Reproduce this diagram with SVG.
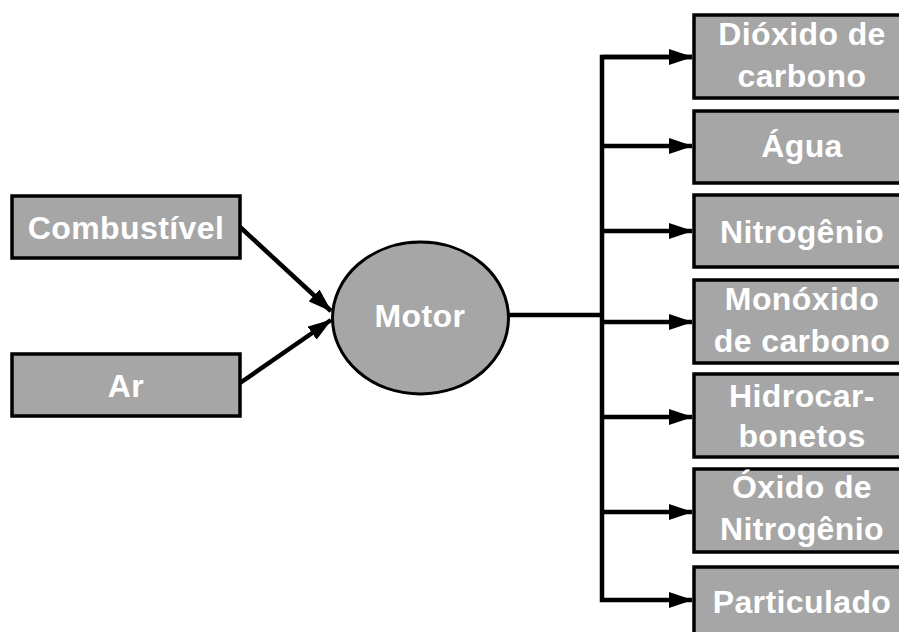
<svg xmlns="http://www.w3.org/2000/svg" width="899" height="632" viewBox="0 0 899 632">
<defs>
<marker id="ah" markerWidth="24" markerHeight="16" refX="23" refY="8" orient="auto" markerUnits="userSpaceOnUse">
<path d="M0,0 L24,8 L0,16 Z" fill="#000"/>
</marker>
<style>
.box{fill:#a6a6a6;stroke:#000;stroke-width:3.5}
.t{font-family:"Liberation Sans",Arial,sans-serif;font-weight:bold;font-size:32px;letter-spacing:0.4px;fill:#fff;text-anchor:middle}
.c{fill:none;stroke:#000;stroke-width:4.5}
</style>
</defs>
<rect width="899" height="632" fill="#fff"/>
<g id="connectors">
<line class="c" x1="240" y1="227" x2="331" y2="311" marker-end="url(#ah)"/>
<line class="c" x1="240" y1="383" x2="331" y2="320" marker-end="url(#ah)"/>
<line class="c" x1="509" y1="315" x2="602" y2="315"/>
<polyline class="c" points="692,57 602,57 602,600 692,600" marker-end="url(#ah)"/>
<line class="c" x1="602" y1="146" x2="692" y2="146" marker-end="url(#ah)"/>
<line class="c" x1="602" y1="231" x2="692" y2="231" marker-end="url(#ah)"/>
<line class="c" x1="602" y1="322" x2="692" y2="322" marker-end="url(#ah)"/>
<line class="c" x1="602" y1="417" x2="692" y2="417" marker-end="url(#ah)"/>
<line class="c" x1="602" y1="512" x2="692" y2="512" marker-end="url(#ah)"/>
<path d="M602,57 L692,57" class="c" marker-end="url(#ah)"/>
</g>
<g id="combustivel"><rect class="box" x="12" y="196" width="228" height="62"/><text class="t" x="126" y="239">Combustível</text></g>
<g id="ar"><rect class="box" x="12" y="354" width="228" height="62"/><text class="t" x="126" y="397">Ar</text></g>
<g id="motor"><ellipse cx="420.5" cy="318" rx="88" ry="76" fill="#a6a6a6" stroke="#000" stroke-width="3"/><text class="t" x="420" y="327">Motor</text></g>
<g id="dioxido"><rect class="box" x="694" y="15" width="216" height="83"/><text class="t" x="802" y="45">Dióxido de</text><text class="t" x="802" y="87">carbono</text></g>
<g id="agua"><rect class="box" x="694" y="111" width="216" height="72"/><text class="t" x="802" y="157">Água</text></g>
<g id="nitrogenio"><rect class="box" x="694" y="195" width="216" height="72"/><text class="t" x="802" y="243">Nitrogênio</text></g>
<g id="monoxido"><rect class="box" x="694" y="280" width="216" height="83"/><text class="t" x="802" y="310">Monóxido</text><text class="t" x="802" y="352">de carbono</text></g>
<g id="hidrocarbonetos"><rect class="box" x="694" y="374" width="216" height="83"/><text class="t" x="802" y="407">Hidrocar-</text><text class="t" x="802" y="447">bonetos</text></g>
<g id="oxido"><rect class="box" x="694" y="469" width="216" height="83"/><text class="t" x="802" y="498">Óxido de</text><text class="t" x="802" y="540">Nitrogênio</text></g>
<g id="particulado"><rect class="box" x="694" y="567" width="216" height="80"/><text class="t" x="802" y="613">Particulado</text></g>
</svg>
